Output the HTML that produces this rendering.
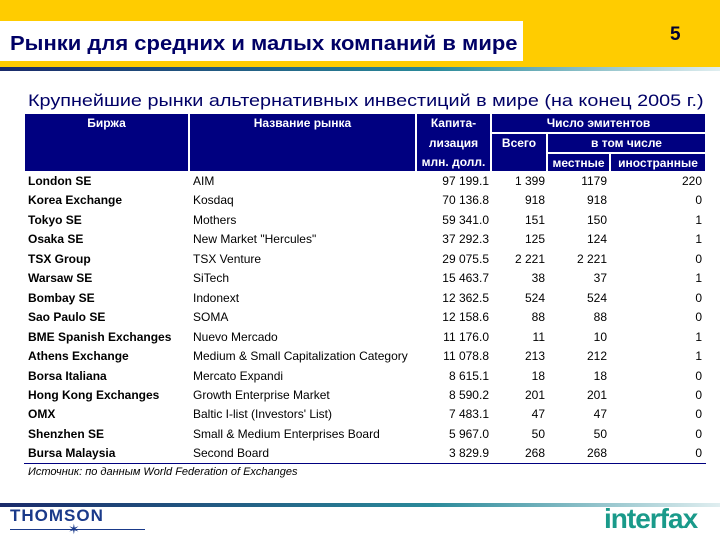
<!DOCTYPE html>
<html><head><meta charset="utf-8"><style>
body{margin:0;width:720px;height:540px;overflow:hidden;background:#fff;font-family:"Liberation Sans",sans-serif;position:relative}
div{position:absolute}
.h{background:#000080;color:#fff;font-weight:bold;font-size:12px;text-align:center;line-height:19px;border:1px solid #fff;box-sizing:border-box}
.r{font-size:12px;height:19.4px;line-height:19.4px;color:#000;white-space:nowrap}
.b{font-weight:bold}
.n{text-align:right}
</style></head><body>
<div style="left:0;top:0;width:720px;height:68px;background:#ffcc00"></div>
<div style="left:0;top:21px;width:523px;height:40px;background:#fff"></div>
<div style="left:10px;top:33px;font-size:20px;font-weight:bold;color:#000066;white-space:nowrap;transform:scaleX(1.1);transform-origin:0 0">Рынки для средних и малых компаний в мире</div>
<div style="left:670px;top:24px;font-size:19px;font-weight:bold;color:#000033">5</div>
<div style="left:0;top:67px;width:720px;height:4px;background:linear-gradient(90deg,#1a2a6a,#2a8a9a 60%,#e0eef0)"></div>
<div style="left:28px;top:91px;font-size:17px;color:#000066;white-space:nowrap;transform:scaleX(1.165);transform-origin:0 0">Крупнейшие рынки альтернативных инвестиций в мире (на конец 2005 г.)</div>
<div style="left:24px;top:113px;width:682px;height:59px">
<div class="h" style="left:0;top:0;width:165px;height:59px">Биржа</div>
<div class="h" style="left:165px;top:0;width:227px;height:59px">Название рынка</div>
<div class="h" style="left:392px;top:0;width:75px;height:59px;line-height:19.5px">Капита-<br>лизация<br>млн. долл.</div>
<div class="h" style="left:467px;top:0;width:215px;height:20px">Число эмитентов</div>
<div class="h" style="left:467px;top:20px;width:56px;height:39px">Всего</div>
<div class="h" style="left:523px;top:20px;width:159px;height:20px">в том числе</div>
<div class="h" style="left:523px;top:40px;width:63px;height:19px">местные</div>
<div class="h" style="left:586px;top:40px;width:96px;height:19px">иностранные</div>
</div>
<div id="rows" style="left:0;top:172px;width:720px"></div>
<div style="left:24px;top:463px;width:682px;height:1px;background:#000080"></div>
<div style="left:28px;top:466px;font-size:11px;font-style:italic;color:#000">Источник: по данным World Federation of Exchanges</div>
<div style="left:0;top:503px;width:720px;height:4px;background:linear-gradient(90deg,#1a2a6a,#2a8a9a 60%,#e0eef0)"></div>
<div style="left:10px;top:506px;font-size:17px;font-weight:bold;color:#1a3a8a;letter-spacing:1px">THOMSON</div>
<div style="left:10px;top:529px;width:135px;height:1px;background:#1a3a8a"></div>
<div style="left:68px;top:521px;font-size:14px;color:#1a3a8a">✶</div>
<div style="left:604px;top:503px;font-size:28px;font-weight:bold;color:#1a9a8a;letter-spacing:-1px">interfax</div>
<script>
const exchanges=["London SE","Korea Exchange","Tokyo SE","Osaka SE","TSX Group","Warsaw SE","Bombay SE","Sao Paulo SE","BME Spanish Exchanges","Athens Exchange","Borsa Italiana","Hong Kong Exchanges","OMX","Shenzhen SE","Bursa Malaysia"];
const markets=["AIM","Kosdaq","Mothers","New Market \"Hercules\"","TSX Venture","SiTech","Indonext","SOMA","Nuevo Mercado","Medium & Small Capitalization Category","Mercato Expandi","Growth Enterprise Market","Baltic I-list (Investors' List)","Small & Medium Enterprises Board","Second Board"];
const caps=["97 199.1","70 136.8","59 341.0","37 292.3","29 075.5","15 463.7","12 362.5","12 158.6","11 176.0","11 078.8","8 615.1","8 590.2","7 483.1","5 967.0","3 829.9"];
const totals=["1 399","918","151","125","2 221","38","524","88","11","213","18","201","47","50","268"];
const locals=["1179","918","150","124","2 221","37","524","88","10","212","18","201","47","50","268"];
const foreigns=["220","0","1","1","0","1","0","0","1","1","0","0","0","0","0"];
const box=document.getElementById('rows');
exchanges.forEach((e,i)=>{
 const row=document.createElement('div');
 
 
 row.style.cssText='left:0;top:'+(i*19.45)+'px;width:720px;height:19.4px';
 const cells=[[e,28,160,'r b'],[markets[i],193,220,'r'],[caps[i],420,69,'r n'],[totals[i],491,54,'r n'],[locals[i],547,60,'r n'],[foreigns[i],610,92,'r n']];
 cells.forEach(c=>{
  const d=document.createElement('div');
  
  
  d.className=c[3];d.textContent=c[0];
  d.style.left=c[1]+'px';d.style.width=c[2]+'px';d.style.top='0';
  row.appendChild(d);
 });
 box.appendChild(row);
});
</script>
</body></html>
